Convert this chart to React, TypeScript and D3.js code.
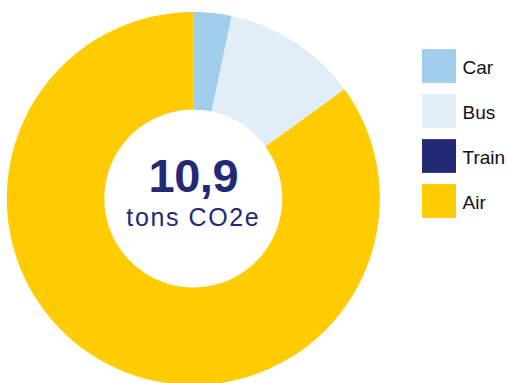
import React from "react";
import * as d3 from "d3";

const categories = ["Car", "Bus", "Train", "Air"];
const values = [0.36, 1.28, 0, 9.26];
const colors = ["#a0cde9", "#e1eef8", "#222a75", "#fecc00"];
const totalLabel = "10,9";
const unitLabel = "tons CO2e";

const W = 507;
const H = 383;
const cx = 193.3;
const cy = 198.5;
const outerR = 186.5;
const innerR = 89;

export default function App() {
  const data = categories.map((c, i) => ({ name: c, value: values[i], color: colors[i] }));
  const pie = d3.pie<any>().value((d: any) => d.value).sort(null);
  const arcs = pie(data);
  const arc = d3.arc<any>().innerRadius(innerR).outerRadius(outerR);
  const legendY = d3.scaleBand().domain(categories).range([43.5, 223.5]).paddingInner(0.25).paddingOuter(0.125);
  const font = "'Liberation Sans', Arial, Helvetica, sans-serif";
  return (
    <svg width={W} height={H} style={{ position: "absolute", left: 0, top: 0 }} fontFamily={font}>
      <rect width={W} height={H} fill="#ffffff" />
      <g transform={`translate(${cx},${cy})`}>
        {arcs.map((a, i) => (
          <path key={i} d={arc(a) || ""} fill={a.data.color} />
        ))}
        <text x={0} y={-7} textAnchor="middle" fontSize={47} fontWeight="bold" letterSpacing={-0.5} fill="#222a75">
          {totalLabel}
        </text>
        <text x={0} y={27.5} textAnchor="middle" fontSize={25} letterSpacing={1.6} fill="#222a75">
          {unitLabel}
        </text>
      </g>
      <g>
        {categories.map((c, i) => {
          const y = legendY(c) as number;
          const bw = legendY.bandwidth();
          return (
            <g key={c}>
              <rect x={422} y={y} width={34} height={bw} fill={colors[i]} />
              <text x={462.5} y={y + bw / 2 + 7.5} fontSize={19} fill="#111111">
                {c}
              </text>
            </g>
          );
        })}
      </g>
    </svg>
  );
}
